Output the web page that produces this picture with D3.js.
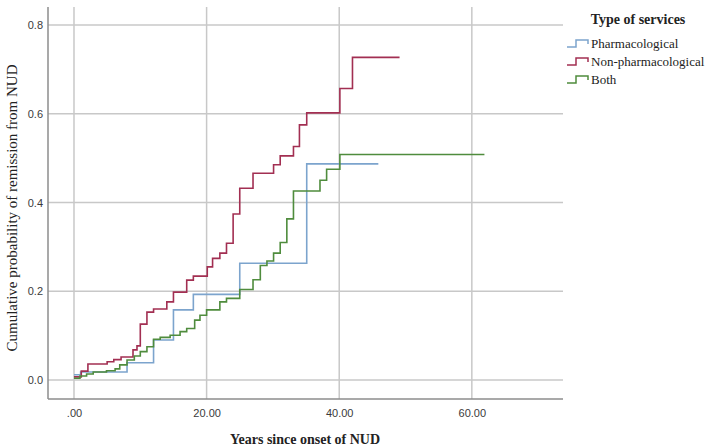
<!DOCTYPE html>
<html>
<head>
<meta charset="utf-8">
<script src="https://cdn.jsdelivr.net/npm/d3@7"></script>
<style>
  body { margin: 0; background: #fff; }
</style>
</head>
<body>
<div id="chart"></div>
<script>
// Kaplan-Meier style cumulative curves
var pharmTimes = [0, 1.0, 8.0, 12.0, 15.0, 18.0, 25.0, 35.1, 45.9];
var pharmProb  = [0.012, 0.018, 0.039, 0.090, 0.158, 0.193, 0.263, 0.487, 0.487];

var nonPharmTimes = [0, 1.1, 2.1, 5.0, 6.0, 7.1, 8.9, 9.5, 10.0, 11.0, 12.0, 14.0, 15.0, 17.0, 18.0,
                     20.1, 20.9, 22.0, 23.0, 24.0, 25.0, 27.0, 30.1, 31.1, 33.1, 34.0, 35.1, 40.1, 42.0, 49.1];
var nonPharmProb  = [0.007, 0.020, 0.036, 0.041, 0.046, 0.052, 0.068, 0.077, 0.126, 0.153, 0.160, 0.176, 0.198, 0.225, 0.234,
                     0.255, 0.274, 0.286, 0.308, 0.374, 0.432, 0.466, 0.485, 0.505, 0.526, 0.575, 0.602, 0.657, 0.727, 0.727];

var bothTimes = [0, 0.9, 1.9, 2.9, 4.9, 6.2, 6.9, 8.0, 9.1, 10.0, 11.0, 12.0, 13.0, 14.5, 16.0, 17.0, 18.2, 19.0,
                 20.0, 22.0, 23.0, 25.0, 27.0, 28.1, 29.1, 30.1, 31.1, 32.1, 33.1, 37.1, 38.1, 40.1, 61.9];
var bothProb  = [0.004, 0.009, 0.0135, 0.018, 0.021, 0.025, 0.034, 0.045, 0.054, 0.064, 0.075, 0.092, 0.096, 0.101, 0.109, 0.116, 0.135, 0.146,
                 0.158, 0.176, 0.184, 0.204, 0.226, 0.258, 0.268, 0.286, 0.310, 0.363, 0.426, 0.450, 0.475, 0.508, 0.508];

var seriesNames = ["Pharmacological", "Non-pharmacological", "Both"];
var seriesColors = ["#7ca4cd", "#a22f52", "#4f8c3d"];

var xTicks = [0, 20, 40, 60];
var yTicks = [0, 0.2, 0.4, 0.6, 0.8];

var legendTitle = "Type of services";
var xTitle = "Years since onset of NUD";
var yTitle = "Cumulative probability of remission from NUD";

// zusammenbauen
var series = [
  { name: seriesNames[0], color: seriesColors[0], pts: pharmTimes.map(function(t, i) { return [t, pharmProb[i]]; }) },
  { name: seriesNames[1], color: seriesColors[1], pts: nonPharmTimes.map(function(t, i) { return [t, nonPharmProb[i]]; }) },
  { name: seriesNames[2], color: seriesColors[2], pts: bothTimes.map(function(t, i) { return [t, bothProb[i]]; }) }
];

var width = 709, height = 448;
var plot = { left: 48, right: 563, top: 7, bottom: 399 };

var svg = d3.select("#chart")
  .append("svg")
  .attr("width", width)
  .attr("height", height)
  .style("background", "#fff");

var x = d3.scaleLinear().domain([-3.92, 73.75]).range([plot.left, plot.right]);
var y = d3.scaleLinear().domain([-0.0428, 0.8405]).range([plot.bottom, plot.top]);

// Gitterlinien
svg.append("g")
  .selectAll("line")
  .data(xTicks)
  .enter().append("line")
  .attr("x1", function(d) { return x(d); })
  .attr("x2", function(d) { return x(d); })
  .attr("y1", plot.top)
  .attr("y2", plot.bottom)
  .attr("stroke", "#c8c8c8")
  .attr("stroke-width", 1.5);

svg.append("g")
  .selectAll("line")
  .data(yTicks)
  .enter().append("line")
  .attr("x1", plot.left)
  .attr("x2", plot.right)
  .attr("y1", function(d) { return y(d); })
  .attr("y2", function(d) { return y(d); })
  .attr("stroke", "#c8c8c8")
  .attr("stroke-width", 1.5);

// Achsen
var xAxis = svg.append("g")
  .attr("transform", "translate(0," + plot.bottom + ")")
  .call(d3.axisBottom(x).tickValues(xTicks).tickSize(0).tickPadding(10)
    .tickFormat(function(d) { return d === 0 ? ".00" : d.toFixed(2); }));
xAxis.select(".domain").remove();
xAxis.selectAll("text")
  .style("font-family", "Liberation Sans, Arial, sans-serif")
  .style("font-size", "11px")
  .attr("fill", "#3a3a3a");

var yAxis = svg.append("g")
  .attr("transform", "translate(" + plot.left + ",0)")
  .call(d3.axisLeft(y).tickValues(yTicks).tickSize(0).tickPadding(5).tickFormat(d3.format(".1f")));
yAxis.select(".domain").remove();
yAxis.selectAll("text")
  .style("font-family", "Liberation Sans, Arial, sans-serif")
  .style("font-size", "11px")
  .attr("fill", "#3a3a3a");

svg.append("line")
  .attr("x1", plot.left).attr("x2", plot.left)
  .attr("y1", plot.top).attr("y2", plot.bottom)
  .attr("stroke", "#8c8c8c").attr("stroke-width", 1.5);
svg.append("line")
  .attr("x1", plot.left).attr("x2", plot.right)
  .attr("y1", plot.bottom).attr("y2", plot.bottom)
  .attr("stroke", "#8c8c8c").attr("stroke-width", 1.5);

// Kurven
var line = d3.line()
  .x(function(d) { return x(d[0]); })
  .y(function(d) { return y(d[1]); })
  .curve(d3.curveStepAfter);

svg.append("g")
  .selectAll("path")
  .data(series)
  .enter().append("path")
  .attr("d", function(d) { return line(d.pts); })
  .attr("fill", "none")
  .attr("stroke", function(d) { return d.color; })
  .attr("stroke-width", 1.6);

// Achsentitel
svg.append("text")
  .attr("x", 305)
  .attr("y", 444)
  .attr("text-anchor", "middle")
  .style("font-family", "Liberation Serif, Times New Roman, serif")
  .style("font-size", "14px")
  .style("font-weight", "bold")
  .attr("fill", "#222")
  .text(xTitle);

svg.append("text")
  .attr("transform", "translate(17,208)rotate(-90)")
  .attr("text-anchor", "middle")
  .style("font-family", "Liberation Serif, Times New Roman, serif")
  .style("font-size", "15px")
  .attr("fill", "#222")
  .text(yTitle);

// Legende
svg.append("text")
  .attr("x", 638)
  .attr("y", 24)
  .attr("text-anchor", "middle")
  .style("font-family", "Liberation Serif, Times New Roman, serif")
  .style("font-size", "14px")
  .style("font-weight", "bold")
  .attr("fill", "#222")
  .text(legendTitle);

var legend = svg.append("g")
  .selectAll("g")
  .data(series)
  .enter().append("g")
  .attr("transform", function(d, i) { return "translate(567," + (43 + i * 18) + ")"; });

legend.append("path")
  .attr("d", "M0,4 H9 V-3 H21 V1")
  .attr("fill", "none")
  .attr("stroke", function(d) { return d.color; })
  .attr("stroke-width", 1.5);

legend.append("text")
  .attr("x", 24)
  .attr("y", 5)
  .style("font-family", "Liberation Serif, Times New Roman, serif")
  .style("font-size", "13px")
  .attr("fill", "#222")
  .text(function(d) { return d.name; });
</script>
</body>
</html>
